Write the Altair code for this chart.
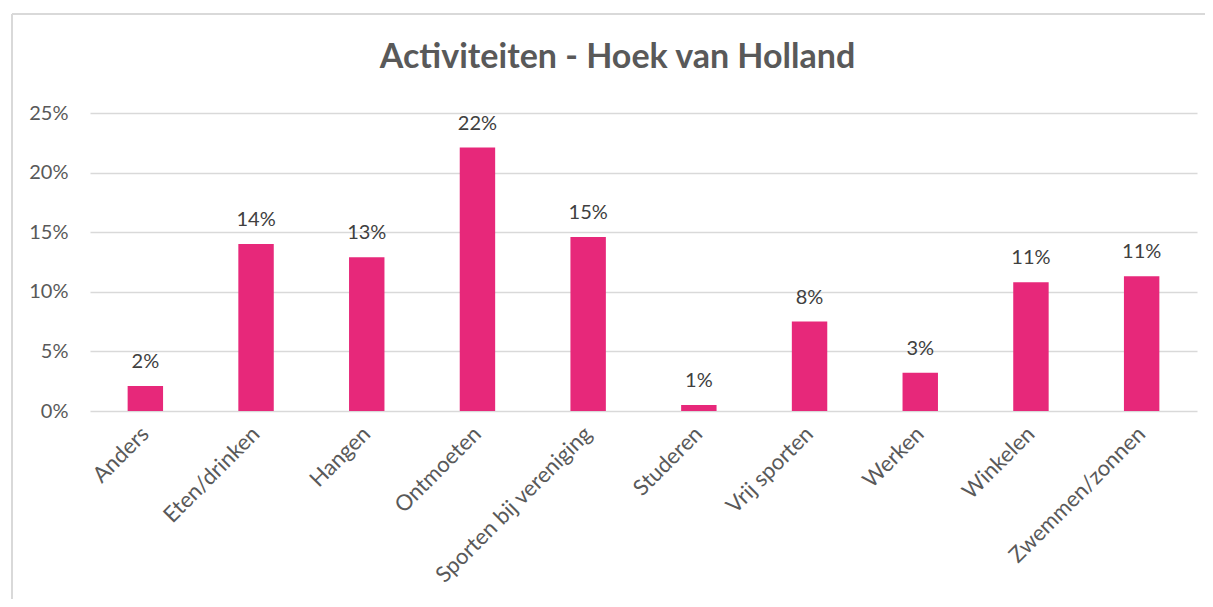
import altair as alt
import pandas as pd

categories = ["Anders", "Eten/drinken", "Hangen", "Ontmoeten", "Sporten bij vereniging",
              "Studeren", "Vrij sporten", "Werken", "Winkelen", "Zwemmen/zonnen"]
values = [0.021, 0.140, 0.129, 0.221, 0.146, 0.005, 0.075, 0.032, 0.108, 0.113]
y_ticks = [0, 0.05, 0.10, 0.15, 0.20, 0.25]

df = pd.DataFrame({"cat": categories, "val": values})

FONT = "Lato"
PINK = "#E7287A"

x = alt.X("cat:N", sort=categories, title=None,
          scale=alt.Scale(paddingInner=0.68, paddingOuter=0.34),
          axis=alt.Axis(labelAngle=-45, labelAlign="right", labelBaseline="middle",
                        labelFontSize=22, labelColor="#595959", labelFont=FONT,
                        labelPadding=19, ticks=False, domain=False, labelLimit=400))
y = alt.Y("val:Q", title=None,
          scale=alt.Scale(domain=[0, 0.25], nice=False),
          axis=alt.Axis(values=y_ticks, format=".0%", labelFontSize=20, labelColor="#595959",
                        labelFont=FONT, labelPadding=22, ticks=False, domain=False,
                        gridColor="#D9D9D9", gridWidth=1.5))

bars = alt.Chart(df).mark_bar(color=PINK).encode(x=x, y=y)
labels = alt.Chart(df).mark_text(dy=-24, fontSize=20, color="#404040", font=FONT).encode(
    x=alt.X("cat:N", sort=categories), y="val:Q", text=alt.Text("val:Q", format=".0%"))

frame_left = alt.Chart(df).mark_rule(color="#D9D9D9", strokeWidth=1.5).encode(
    x=alt.value(-78), y=alt.value(-99), y2=alt.value(500))
frame_top = alt.Chart(df).mark_rule(color="#D9D9D9", strokeWidth=1.5).encode(
    x=alt.value(-78), x2=alt.value(1120), y=alt.value(-99))

chart = alt.layer(bars, labels, frame_left, frame_top).properties(
    width=1107, height=298,
    padding={"left": 82, "top": 105, "right": 8, "bottom": 188},
    autosize=alt.AutoSizeParams(type="none"),
    title=alt.TitleParams("Activiteiten - Hoek van Holland", fontSize=34, font=FONT,
                          fontWeight="bold", color="#595959", anchor="middle",
                          baseline="alphabetic", dx=-26, dy=89, offset=0),
).configure_view(stroke=None)

chart.save("out.html", embed_options={"renderer": "svg", "actions": False})
